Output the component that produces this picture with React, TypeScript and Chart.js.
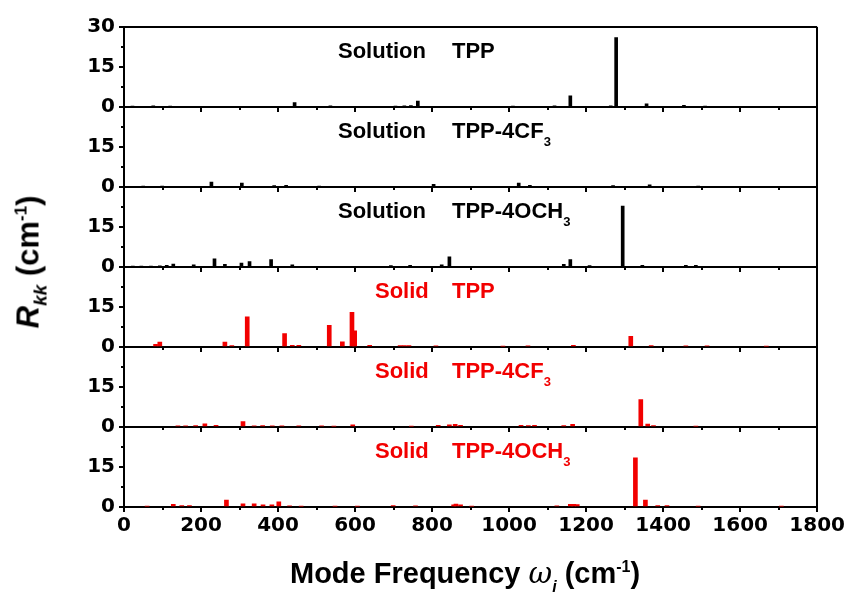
import React, { useEffect, useRef } from 'react';
import { Chart, registerables } from 'chart.js';

Chart.register(...registerables);

// ---------------- data ----------------
const X_MIN = 0;
const X_MAX = 1800;
const X_STEP = 200;
const Y_MIN = 0;
const Y_MAX = 30;
const Y_STEP = 15;

const panelPrefixes = ['Solution', 'Solution', 'Solution', 'Solid', 'Solid', 'Solid'];
const panelCompounds = ['TPP', 'TPP-4CF', 'TPP-4OCH', 'TPP', 'TPP-4CF', 'TPP-4OCH'];
const panelSubscripts = ['', '3', '3', '', '3', '3'];
const panelColors = ['#000000', '#000000', '#000000', '#f20000', '#f20000', '#f20000'];

const solTppFreq = [22, 76, 120, 443, 536, 705, 728, 745, 763, 1010, 1118, 1159, 1264, 1278, 1357, 1454, 1509];
const solTppR = [0.3, 0.4, 0.2, 1.7, 0.4, 0.3, 0.4, 0.5, 2.2, 0.3, 0.4, 4.2, 0.4, 26.0, 1.2, 0.6, 0.3];

const solCf3Freq = [50, 99, 227, 306, 390, 421, 507, 804, 1025, 1054, 1270, 1365, 1491];
const solCf3R = [0.3, 0.3, 1.8, 1.5, 0.5, 0.6, 0.3, 1.0, 1.5, 0.6, 0.5, 0.8, 0.3];

const solOch3Freq = [23, 45, 70, 93, 111, 128, 181, 235, 262, 305, 326, 382, 437, 693, 743, 825, 845, 1142, 1159, 1209, 1295, 1346, 1459, 1485];
const solOch3R = [0.3, 0.3, 0.3, 0.4, 0.6, 1.1, 0.8, 3.1, 1.0, 1.5, 2.0, 2.8, 0.8, 0.5, 0.6, 0.8, 3.8, 1.0, 2.8, 0.5, 22.8, 0.6, 0.6, 0.6];

const sldTppFreq = [82, 93, 262, 280, 320, 417, 437, 454, 533, 567, 592, 599, 638, 717, 728, 740, 810, 984, 1049, 1167, 1316, 1369, 1459, 1514, 1668];
const sldTppR = [1.0, 1.8, 1.8, 0.5, 11.3, 5.0, 0.6, 0.6, 8.1, 1.9, 13.0, 6.1, 0.6, 0.5, 0.5, 0.5, 0.4, 0.3, 0.4, 0.6, 4.0, 0.5, 0.4, 0.4, 0.3];

const sldCf3Freq = [140, 160, 186, 210, 239, 309, 338, 360, 385, 410, 454, 513, 545, 594, 746, 816, 845, 860, 874, 1031, 1050, 1066, 1142, 1165, 1342, 1360, 1375, 1485];
const sldCf3R = [0.4, 0.4, 0.5, 1.2, 0.6, 2.0, 0.4, 0.5, 0.4, 0.4, 0.4, 0.4, 0.3, 0.8, 0.3, 0.6, 0.8, 1.0, 0.6, 0.6, 0.5, 0.6, 0.5, 1.0, 10.3, 1.1, 0.5, 0.3];

const sldOch3Freq = [60, 128, 150, 170, 266, 309, 338, 361, 384, 402, 430, 460, 548, 606, 699, 757, 856, 862, 874, 903, 1124, 1159, 1168, 1177, 1328, 1354, 1386, 1410, 1491, 1707];
const sldOch3R = [0.3, 1.0, 0.5, 0.5, 2.6, 1.2, 1.2, 0.8, 0.8, 1.9, 0.4, 0.3, 0.3, 0.3, 0.5, 0.4, 0.8, 1.1, 0.8, 0.3, 0.4, 1.0, 1.0, 0.9, 18.4, 2.6, 0.5, 0.5, 0.3, 0.3];

const seriesFreq = [solTppFreq, solCf3Freq, solOch3Freq, sldTppFreq, sldCf3Freq, sldOch3Freq];
const seriesR = [solTppR, solCf3R, solOch3R, sldTppR, sldCf3R, sldOch3R];

// ---------------- layout ----------------
const W = 847;
const H = 596;
const AREA_LEFT = 124;
const AREA_TOP = 27;
const AREA_RIGHT = 818;
const AREA_BOTTOM = 507;
const PANEL_H = (AREA_BOTTOM - AREA_TOP) / 6;
const AXIS_IDS = ['y0', 'y1', 'y2', 'y3', 'y4', 'y5']; // y0 = top panel
const TICK_FONT = { family: "'DejaVu Sans', sans-serif", weight: 'bold' as const, size: 20 };
const TEXT_FONT = "'Liberation Sans', Arial, sans-serif";

const minorTicksPlugin = {
  id: 'minorTicks',
  afterDraw(chart: any) {
    const ctx = chart.ctx;
    const xs = chart.scales.x;
    ctx.save();
    ctx.strokeStyle = '#000';
    ctx.lineWidth = 2;
    AXIS_IDS.forEach((id, i) => {
      const ys = chart.scales[id];
      const base = ys.getPixelForValue(0);
      for (let v = X_MIN + X_STEP / 2; v < X_MAX; v += X_STEP / 2) {
        const major = v % X_STEP === 0;
        if (i === AXIS_IDS.length - 1 && major) continue;
        const px = Math.round(xs.getPixelForValue(v));
        ctx.beginPath();
        ctx.moveTo(px, base);
        ctx.lineTo(px, base + (major ? 5 : 3));
        ctx.stroke();
      }
      const left = chart.chartArea.left;
      [Y_STEP / 2, Y_STEP * 1.5].forEach((v) => {
        const py = Math.round(ys.getPixelForValue(v));
        ctx.beginPath();
        ctx.moveTo(left, py);
        ctx.lineTo(left - 3, py);
        ctx.stroke();
      });
    });
    ctx.restore();
  },
};

function ChartCanvas() {
  const ref = useRef<HTMLCanvasElement | null>(null);
  useEffect(() => {
    if (!ref.current) return;
    const scales: any = {
      x: {
        type: 'linear',
        position: 'bottom',
        min: X_MIN,
        max: X_MAX,
        offset: false,
        ticks: {
          stepSize: X_STEP,
          font: TICK_FONT,
          color: '#000',
          padding: 2,
          maxRotation: 0,
          autoSkip: false,
          callback: (v: any) => String(v),
        },
        grid: {
          offset: false,
          drawOnChartArea: true,
          color: (c: any) => (c.tick && c.tick.value === X_MAX ? '#000' : 'rgba(0,0,0,0)'),
          lineWidth: 2,
          tickLength: 5,
          tickColor: '#000',
          tickWidth: 2,
        },
        border: { display: true, color: '#000', width: 2 },
        afterFit: (s: any) => {
          s.height = H - AREA_BOTTOM;
        },
      },
    };
    // stacked axes: the last one defined is placed on top, so define bottom panel first
    [...AXIS_IDS].reverse().forEach((id) => {
      const i = AXIS_IDS.indexOf(id);
      scales[id] = {
        type: 'linear',
        position: 'left',
        stack: 'panels',
        stackWeight: 1,
        min: Y_MIN,
        max: Y_MAX,
        ticks: {
          stepSize: Y_STEP,
          autoSkip: false,
          font: TICK_FONT,
          color: '#000',
          padding: 4,
          callback: (v: any) => (i === 0 || v !== Y_MAX ? String(v) : ''),
        },
        grid: {
          drawOnChartArea: true,
          color: (c: any) =>
            c.tick && (c.tick.value === 0 || (i === 0 && c.tick.value === Y_MAX)) ? '#000' : 'rgba(0,0,0,0)',
          lineWidth: 2,
          tickLength: 5,
          tickColor: '#000',
          tickWidth: 2,
        },
        border: { display: true, color: '#000', width: 2 },
        afterFit: (s: any) => {
          s.width = AREA_LEFT;
        },
      };
    });

    const chart = new Chart(ref.current, {
      type: 'bar',
      data: {
        datasets: AXIS_IDS.map((id, i) => ({
          label: `${panelPrefixes[i]} ${panelCompounds[i]}${panelSubscripts[i]}`,
          data: seriesFreq[i].map((f, k) => ({ x: f, y: seriesR[i][k] })),
          xAxisID: 'x',
          yAxisID: id,
          backgroundColor: panelColors[i],
          borderWidth: 0,
          barThickness: i < 3 ? 3 : 4,
          grouped: false,
        })) as any,
      },
      options: {
        responsive: false,
        animation: false,
        devicePixelRatio: 1,
        layout: { padding: { top: AREA_TOP, right: W - AREA_RIGHT, left: 0, bottom: 0 } },
        plugins: { legend: { display: false }, tooltip: { enabled: false }, title: { display: false } },
        scales,
      } as any,
      plugins: [minorTicksPlugin],
    });
    return () => chart.destroy();
  }, []);
  return <canvas ref={ref} width={W} height={H} style={{ position: 'absolute', left: 0, top: 0 }} />;
}

export default function App() {
  return (
    <div style={{ position: 'absolute', left: 0, top: 0, width: W, height: H, background: '#fff', overflow: 'hidden' }}>
      <ChartCanvas />
      {AXIS_IDS.map((id, i) => {
        const top = AREA_TOP + i * PANEL_H + 13;
        const style: React.CSSProperties = {
          position: 'absolute',
          top,
          fontFamily: TEXT_FONT,
          fontWeight: 'bold',
          fontSize: 22,
          lineHeight: '22px',
          color: panelColors[i],
          whiteSpace: 'nowrap',
        };
        return (
          <React.Fragment key={id}>
            <span style={{ ...style, left: panelPrefixes[i] === 'Solution' ? 338 : 375 }}>{panelPrefixes[i]}</span>
            <span style={{ ...style, left: 452 }}>
              {panelCompounds[i]}
              {panelSubscripts[i] ? (
                <span style={{ fontSize: 13, position: 'relative', top: 8 }}>{panelSubscripts[i]}</span>
              ) : null}
            </span>
          </React.Fragment>
        );
      })}
      <div
        style={{
          position: 'absolute',
          left: 290,
          top: 558,
          fontFamily: TEXT_FONT,
          fontWeight: 'bold',
          fontSize: 29,
          lineHeight: '30px',
          whiteSpace: 'nowrap',
          color: '#000',
        }}
      >
        Mode Frequency{' '}
        <span style={{ fontStyle: 'italic', fontWeight: 'normal', fontFamily: "'DejaVu Serif', serif" }}>ω</span>
        <span style={{ fontStyle: 'italic', fontSize: 16, position: 'relative', top: 9 }}>i</span> (cm
        <span style={{ fontSize: 16, position: 'relative', top: -11 }}>-1</span>)
      </div>
      <div
        style={{
          position: 'absolute',
          left: 31,
          top: 262,
          transform: 'translate(-50%, -50%) rotate(-90deg)',
          fontFamily: TEXT_FONT,
          fontWeight: 'bold',
          fontSize: 31,
          lineHeight: '34px',
          whiteSpace: 'nowrap',
          color: '#000',
        }}
      >
        <span style={{ fontStyle: 'italic' }}>R</span>
        <span style={{ fontStyle: 'italic', fontSize: 19, position: 'relative', top: 8 }}>kk</span> (cm
        <span style={{ fontSize: 17, position: 'relative', top: -12 }}>-1</span>)
      </div>
    </div>
  );
}
